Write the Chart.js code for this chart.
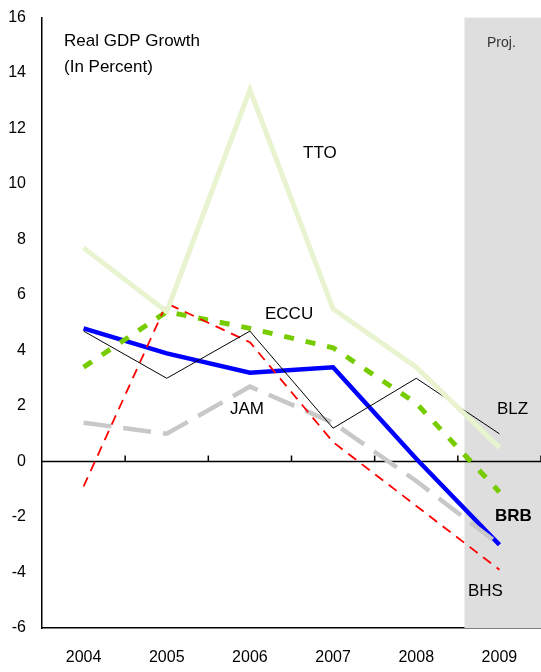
<!DOCTYPE html>
<html><head><meta charset="utf-8">
<script src="https://cdn.jsdelivr.net/npm/chart.js@4"></script>
<style>body{margin:0;background:#fff}#wrap{width:541px;height:672px}</style>
</head><body><div id="wrap"><canvas id="c"></canvas></div>
<script>
var years = ['2004','2005','2006','2007','2008','2009'];
var tto = [7.7, 5.4, 13.4, 5.5, 3.4, 0.5];
var brb = [4.8, 3.9, 3.2, 3.4, 0.1, -3.0];
var eccu = [3.4, 5.4, 4.8, 4.1, 2.1, -1.1];
var blz = [4.7, 3.0, 4.7, 1.2, 3.0, 1.0];
var jam = [1.4, 1.0, 2.7, 1.4, -0.7, -3.0];
var bhs = [-0.9, 5.7, 4.3, 0.7, -1.6, -3.9];

var labels = [
  {t:'TTO', x:303, y:153}, {t:'ECCU', x:265, y:314}, {t:'JAM', x:230, y:409},
  {t:'BLZ', x:497, y:409}, {t:'BRB', x:495, y:516, bold:true}, {t:'BHS', x:468, y:591},
  {t:'Proj.', x:487, y:43, size:14}
];

var deco = {
  id:'deco',
  beforeDatasetsDraw(ch){
    var c=ch.ctx, a=ch.chartArea, x=ch.scales.x, y=ch.scales.y;
    var x0=x.getPixelForValue(4)*0.42+x.getPixelForValue(5)*0.58;
    c.save(); c.fillStyle='#dedede'; c.fillRect(x0,a.top,a.right-x0,a.bottom-a.top);
    var z=y.getPixelForValue(0);
    c.strokeStyle='#000'; c.lineWidth=1.5; c.beginPath(); c.moveTo(a.left,z); c.lineTo(a.right,z); c.stroke();
    for(var i=0;i<6;i++){var p=(x.getPixelForValue(i)+x.getPixelForValue(i+1))/2; c.beginPath(); c.moveTo(p,z); c.lineTo(p,z-6); c.stroke();}
    c.restore();
  },
  afterDraw(ch){
    var c=ch.ctx; c.save(); c.fillStyle='#000'; c.textBaseline='middle';
    c.font='17px Arial, "Liberation Sans"';
    c.fillText('Real GDP Growth',64,41); c.fillText('(In Percent)',64,67);
    labels.forEach(function(l){c.font=(l.bold?'bold ':'')+(l.size||17)+'px Arial, "Liberation Sans"'; c.fillStyle=l.t=='Proj.'?'#333':'#000'; c.fillText(l.t,l.x,l.y);});
    c.restore();
  }
};

function ds(d,col,w,dash){return {data:d,borderColor:col,borderWidth:w,borderDash:dash||[],pointRadius:0,tension:0,fill:false};}

new Chart(document.getElementById('c'),{
  type:'line',
  data:{labels:years,datasets:[
    ds(tto,'#e8f3d0',5),
    ds(blz,'#000',1),
    ds(bhs,'#ff0000',1.8,[10,7]),
    ds(jam,'#c8c8c8',4.5,[28,12]),
    ds(eccu,'#77cc00',5,[10,12]),
    ds(brb,'#0000ff',4.5)
  ]},
  options:{responsive:true,maintainAspectRatio:false,animation:false,
    layout:{padding:{top:15,right:0,left:0,bottom:0}},
    plugins:{legend:{display:false},tooltip:{enabled:false}},
    scales:{
      x:{offset:true,grid:{display:false},border:{color:'#000',width:1.5},
         afterFit:function(s){s.height=44;},
         ticks:{color:'#000',padding:12,font:{size:16,family:'Arial, "Liberation Sans"'},maxRotation:0}},
      y:{min:-6,max:16,grid:{display:false},border:{color:'#000',width:1.5},
         afterFit:function(s){s.width=42;},
         ticks:{stepSize:2,color:'#000',padding:8,font:{size:16,family:'Arial, "Liberation Sans"'}}}
    }
  },
  plugins:[deco]
});
</script></body></html>
